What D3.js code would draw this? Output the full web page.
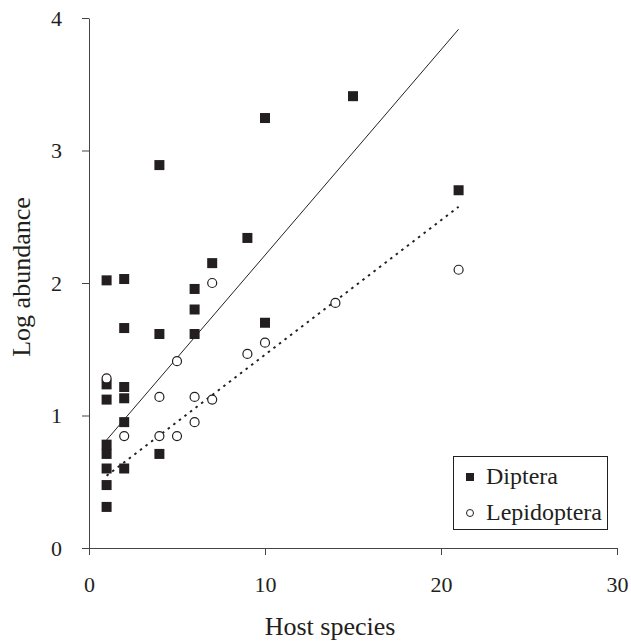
<!DOCTYPE html>
<html lang="en">
<head>
    <meta charset="UTF-8">
    <title>Host species vs Log abundance</title>
    <script src="https://cdn.jsdelivr.net/npm/d3@7"></script>
    <style>
        body { margin: 0; background: #fff; }
        svg text { font-family: "Liberation Serif", "Times New Roman", serif; fill: #231f20; }
    </style>
</head>
<body>
    <svg id="chart" width="631" height="642"></svg>
    <script>
        // data
        var dipteraX = [1, 1, 1, 1, 1, 1, 1, 1, 2, 2, 2, 2, 2, 2, 4, 4, 4, 6, 6, 6, 7, 9, 10, 10, 15, 21];
        var dipteraY = [2.02, 1.235, 1.12, 0.78, 0.71, 0.60, 0.475, 0.31, 2.03, 1.66, 1.215, 1.13, 0.95, 0.60,
            2.89, 1.615, 0.71, 1.955, 1.80, 1.615, 2.15, 2.34, 3.245, 1.70, 3.41, 2.70];
        var lepX = [1, 2, 4, 4, 5, 5, 6, 6, 7, 7, 9, 10, 14, 21];
        var lepY = [1.28, 0.845, 1.14, 0.845, 1.41, 0.845, 1.14, 0.95, 2.0, 1.12, 1.465, 1.55, 1.85, 2.10];
        // fitted lines (intercept, slope) over x range
        var dipteraFit = [0.66, 0.155];
        var lepFit = [0.444, 0.1015];
        var fitRange = [1, 21];
        var xTicks = [0, 10, 20, 30];
        var yTicks = [0, 1, 2, 3, 4];
        var seriesNames = ["Diptera", "Lepidoptera"];

        var svg = d3.select("#chart"),
            ink = "#231f20",
            axisColor = "#444",
            serif = "'Liberation Serif', 'Times New Roman', serif";

        var x = d3.scaleLinear().domain([0, 30]).range([89, 617]);
        var y = d3.scaleLinear().domain([0, 4]).range([548, 18]);

        // axes
        var xAxis = d3.axisBottom(x).tickValues(xTicks).tickFormat(d3.format("d"))
            .tickSize(7).tickSizeOuter(0).tickPadding(21);
        var yAxis = d3.axisLeft(y).tickValues(yTicks).tickFormat(d3.format("d"))
            .tickSize(7).tickSizeOuter(0).tickPadding(20);

        var gx = svg.append("g").attr("transform", "translate(0," + y(0) + ")").call(xAxis);
        var gy = svg.append("g").attr("transform", "translate(" + x(0) + ",0)").call(yAxis);

        [gx, gy].forEach(function (g) {
            g.attr("font-family", serif).attr("font-size", 22);
            g.selectAll("path, line").attr("stroke", axisColor).attr("stroke-width", 1);
            g.selectAll("text").attr("fill", ink);
        });

        // trend lines
        var fitLine = d3.line()
            .x(function (d) { return x(d[0]); })
            .y(function (d) { return y(d[1]); });

        function fitPoints(fit) {
            return fitRange.map(function (v) { return [v, fit[0] + fit[1] * v]; });
        }

        svg.append("path")
            .datum(fitPoints(dipteraFit))
            .attr("fill", "none")
            .attr("stroke", ink)
            .attr("stroke-width", 1)
            .attr("d", fitLine);

        svg.append("path")
            .datum(fitPoints(lepFit))
            .attr("fill", "none")
            .attr("stroke", ink)
            .attr("stroke-width", 2)
            .attr("stroke-dasharray", "2.5,4.5")
            .attr("d", fitLine);

        // points
        var sq = 10;
        svg.selectAll(".dip")
            .data(d3.zip(dipteraX, dipteraY))
            .enter().append("rect")
            .attr("class", "dip")
            .attr("x", function (d) { return x(d[0]) - sq / 2; })
            .attr("y", function (d) { return y(d[1]) - sq / 2; })
            .attr("width", sq)
            .attr("height", sq)
            .attr("fill", ink);

        svg.selectAll(".lep")
            .data(d3.zip(lepX, lepY))
            .enter().append("circle")
            .attr("class", "lep")
            .attr("cx", function (d) { return x(d[0]); })
            .attr("cy", function (d) { return y(d[1]); })
            .attr("r", 4.5)
            .attr("fill", "#fff")
            .attr("stroke", ink)
            .attr("stroke-width", 1.2);

        // axis titles
        svg.append("text")
            .attr("x", 330)
            .attr("y", 635)
            .attr("text-anchor", "middle")
            .attr("font-size", 26)
            .text("Host species");

        svg.append("text")
            .attr("transform", "translate(30,277) rotate(-90)")
            .attr("text-anchor", "middle")
            .attr("font-size", 26)
            .text("Log abundance");

        // legend
        var legend = svg.append("g");
        legend.append("rect")
            .attr("x", 453.5).attr("y", 456.5)
            .attr("width", 154).attr("height", 73)
            .attr("fill", "#fff")
            .attr("stroke", ink)
            .attr("stroke-width", 1);

        legend.append("rect")
            .attr("x", 466).attr("y", 473)
            .attr("width", 8).attr("height", 8)
            .attr("fill", ink);
        legend.append("circle")
            .attr("cx", 470).attr("cy", 513)
            .attr("r", 3.5)
            .attr("fill", "#fff")
            .attr("stroke", ink)
            .attr("stroke-width", 1);

        legend.selectAll(".lab")
            .data(seriesNames)
            .enter().append("text")
            .attr("class", "lab")
            .attr("x", 486)
            .attr("y", function (d, i) { return 484 + i * 36; })
            .attr("font-size", 24)
            .text(function (d) { return d; });
    </script>
</body>
</html>
